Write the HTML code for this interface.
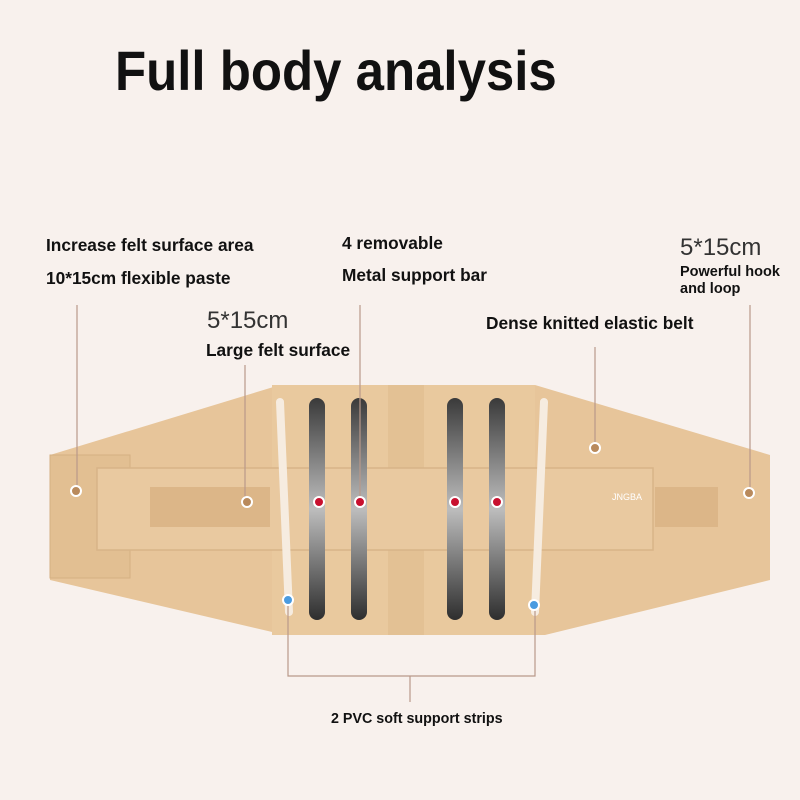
<!DOCTYPE html>
<html><head><meta charset="utf-8"><style>
body{margin:0;width:800px;height:800px;background:#f8f1ed;position:relative;overflow:hidden;font-family:"Liberation Sans","DejaVu Sans",sans-serif;}
.t{position:absolute;font-weight:bold;color:#111;white-space:nowrap;}
.l{position:absolute;font-weight:normal;color:#333;font-size:24px;white-space:nowrap;}
</style></head><body>
<div class="t" style="left:115px;top:38px;font-size:56px;transform:scaleX(0.91);transform-origin:0 0;">Full body analysis</div>
<div class="t" style="left:46px;top:235px;font-size:17.3px;">Increase felt surface area</div>
<div class="t" style="left:46px;top:268px;font-size:17.3px;">10*15cm flexible paste</div>
<div class="t" style="left:342px;top:233px;font-size:17.3px;">4 removable</div>
<div class="t" style="left:342px;top:265px;font-size:17.3px;">Metal support bar</div>
<div class="l" style="left:680px;top:234px;">5*15cm</div>
<div class="t" style="left:680px;top:264px;font-size:14.5px;">Powerful hook</div>
<div class="t" style="left:680px;top:281px;font-size:14.5px;">and loop</div>
<div class="l" style="left:207px;top:307px;">5*15cm</div>
<div class="t" style="left:206px;top:340px;font-size:17.3px;">Large felt surface</div>
<div class="t" style="left:486px;top:313px;font-size:17.3px;">Dense knitted elastic belt</div>
<div class="t" style="left:331px;top:711px;font-size:14.3px;">2 PVC soft support strips</div>
<svg width="800" height="800" style="position:absolute;left:0;top:0">
<defs>
<linearGradient id="bar" x1="0" y1="0" x2="0" y2="1">
<stop offset="0" stop-color="#3a3a3a"/><stop offset="0.5" stop-color="#bdbdbd"/><stop offset="1" stop-color="#2e2e2e"/>
</linearGradient>
</defs>
<polygon points="50,455 280,385 535,385 770,455 770,580 545,635 285,635 50,580" fill="#e7c59a"/>
<rect x="50" y="455" width="80" height="123" fill="#e2bf92" stroke="#d4b083" stroke-width="1"/>
<rect x="272" y="385" width="263" height="250" fill="#e9c99e"/>
<rect x="388" y="385" width="36" height="250" fill="#e3c194"/>
<rect x="97" y="468" width="556" height="82" fill="#e9c9a0" stroke="#d8b488" stroke-width="1.5"/>
<rect x="150" y="487" width="120" height="40" fill="#dcb688"/>
<rect x="655" y="487" width="63" height="40" fill="#dcb688"/>
<text x="612" y="500" font-size="9" fill="#fff" font-family="Liberation Sans">JNGBA</text>
<rect x="309" y="398" width="16" height="222" rx="8" fill="url(#bar)"/>
<rect x="351" y="398" width="16" height="222" rx="8" fill="url(#bar)"/>
<rect x="447" y="398" width="16" height="222" rx="8" fill="url(#bar)"/>
<rect x="489" y="398" width="16" height="222" rx="8" fill="url(#bar)"/>
<line x1="280" y1="402" x2="289" y2="612" stroke="#f6ece0" stroke-width="8" stroke-linecap="round"/>
<line x1="544" y1="402" x2="535" y2="612" stroke="#f6ece0" stroke-width="8" stroke-linecap="round"/>
<g stroke="#b9998a" stroke-width="1.2" fill="none">
<line x1="77" y1="305" x2="77" y2="488"/>
<line x1="245" y1="365" x2="245" y2="498"/>
<line x1="360" y1="305" x2="360" y2="498"/>
<line x1="595" y1="347" x2="595" y2="444"/>
<line x1="750" y1="305" x2="750" y2="488"/>
<polyline points="288,602 288,676 535,676 535,607"/>
<line x1="410" y1="676" x2="410" y2="702"/>
</g>
<g stroke="#fff" stroke-width="2">
<circle cx="76" cy="491" r="5" fill="#b98a5c"/>
<circle cx="247" cy="502" r="5" fill="#b98a5c"/>
<circle cx="595" cy="448" r="5" fill="#b98a5c"/>
<circle cx="749" cy="493" r="5" fill="#b98a5c"/>
<circle cx="319" cy="502" r="5" fill="#c8102e"/>
<circle cx="360" cy="502" r="5" fill="#c8102e"/>
<circle cx="455" cy="502" r="5" fill="#c8102e"/>
<circle cx="497" cy="502" r="5" fill="#c8102e"/>
<circle cx="288" cy="600" r="5" fill="#4a9be0"/>
<circle cx="534" cy="605" r="5" fill="#4a9be0"/>
</g>
</svg>
</body></html>
